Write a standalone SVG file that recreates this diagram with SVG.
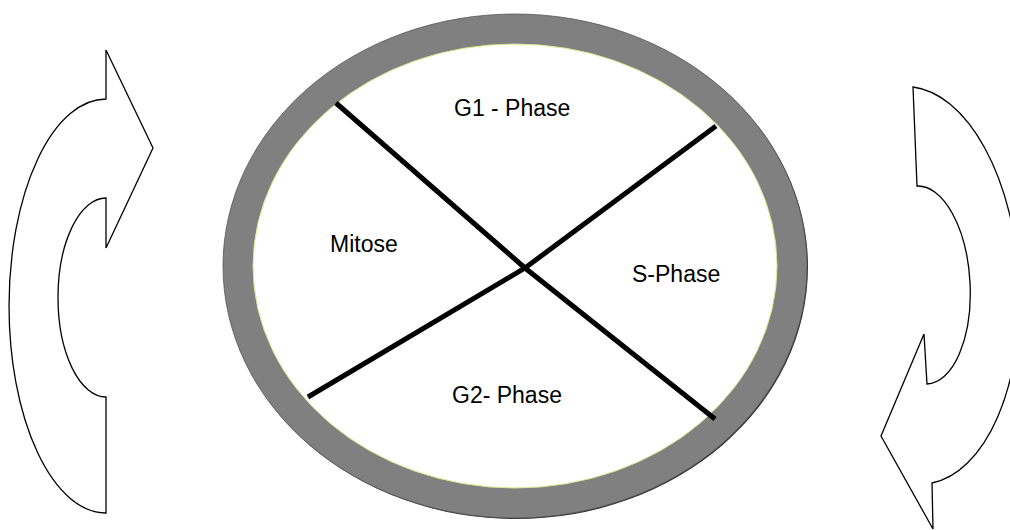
<svg xmlns="http://www.w3.org/2000/svg" width="1010" height="530" viewBox="0 0 1010 530">
<style>
.lbl{font-family:"Liberation Sans",Arial,sans-serif;font-size:23px;fill:#000}
.arrow{fill:#fff;stroke:#000;stroke-width:1.3;stroke-linejoin:miter}
.div{fill:none;stroke:#000;stroke-width:5;stroke-linecap:butt;stroke-linejoin:miter}
</style>
<rect width="1010" height="530" fill="#fff"/>
<g id="arrow-left">
<path class="arrow" d="M106 99 L106 50 L153 148 L106 248 L106 198 A48 99.5 0 0 0 106 397 L106 513 A97 207 0 0 1 106 99 Z"/>
</g>
<g id="arrow-right">
<path class="arrow" d="M913 87 L917 186 A48 99 -3 0 1 927 384 L924 334 L881 436 L933 529 L932 483 A106 199 -3 0 0 913 87 Z"/>
</g>
<g id="cycle">
<ellipse cx="516" cy="267" rx="292" ry="252" fill="#333"/>
<ellipse cx="515" cy="266" rx="292" ry="252" fill="#808080" stroke="#555" stroke-width="0.8"/>
<ellipse cx="515" cy="266" rx="262" ry="222" fill="#fff" stroke="#d6ea8c" stroke-width="1"/>
</g>
<g id="connectors">
<polyline class="div" points="336,103 525,268 715,419"/>
<polyline class="div" points="716,126 525,268 308,397"/>
</g>
<g id="g1"><text class="lbl" x="454" y="116">G1 - Phase</text></g>
<g id="mitose"><text class="lbl" x="330" y="252">Mitose</text></g>
<g id="s"><text class="lbl" x="632" y="282">S-Phase</text></g>
<g id="g2"><text class="lbl" x="452" y="403">G2- Phase</text></g>
</svg>
